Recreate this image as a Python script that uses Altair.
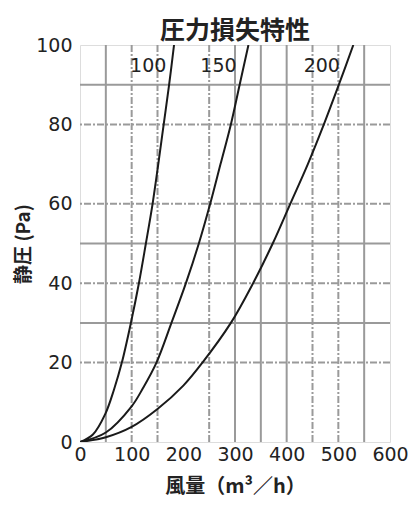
import altair as alt
import pandas as pd

# ---- data ----
x_ticks = [0, 100, 200, 300, 400, 500, 600]
y_ticks = [0, 20, 40, 60, 80, 100]

# curve "100"
p_100 = [0, 1.9, 7.1, 13.3, 20, 30, 40, 50, 60, 70, 80, 90, 100]
q_100 = [0, 25, 49, 66, 81, 98.5, 114, 127.5, 140.5, 151.5, 162, 172.5, 182]

# curve "150"
p_150 = [0, 2.4, 9.0, 13.6, 20, 30, 40, 50, 60, 70, 80, 90, 100]
q_150 = [0, 50, 100, 122, 148, 177, 205, 230, 252, 272, 292, 309, 326]

# curve "200"
p_200 = [0, 1.2, 3.8, 8.3, 14.2, 20, 30, 40, 50, 60, 70, 80, 90, 100]
q_200 = [0, 50, 100, 150, 200, 237, 292, 335, 373, 407, 441, 472, 501, 529]

grid_x_solid = [50, 300, 350, 400, 550]
grid_x_dash = [100, 150, 250, 450, 500]
grid_y_solid = [30, 50, 90]
grid_y_dash = [20, 40, 60, 80]

label_text = ["100", "150", "200"]
label_q = [132, 268, 468]
label_p = [94.7, 94.7, 94.7]

# ---- tables ----
rows = []
for name, qs, ps in (("100", q_100, p_100), ("150", q_150, p_150), ("200", q_200, p_200)):
    for i, (q, p) in enumerate(zip(qs, ps)):
        rows.append({"curve": name, "i": i, "q": q, "p": p})
curves = pd.DataFrame(rows)
labels = pd.DataFrame({"t": label_text, "q": label_q, "p": label_p})

FONT_NUM = "DejaVu Sans"
FONT_JP = "Noto Sans CJK JP"
TXT = "#222222"
GRID = "#9a9a9a"

xscale = alt.Scale(domain=[0, 600], nice=False)
yscale = alt.Scale(domain=[0, 100], nice=False)

X_AXIS = alt.Axis(
    values=x_ticks, grid=False, domain=False, ticks=False, tickSize=0,
    labelFont=FONT_NUM, labelFontSize=19, labelColor=TXT, labelPadding=3,
    labelOverlap=False, labelFlush=False,
    title="風量（m³／h）", titleFont=FONT_JP, titleFontSize=20, titleFontWeight="bold",
    titleColor=TXT, titleY=44, titleBaseline="middle",
)
Y_AXIS = alt.Axis(
    values=y_ticks, grid=False, domain=False, ticks=False, tickSize=0,
    labelFont=FONT_NUM, labelFontSize=19, labelColor=TXT, labelPadding=8,
    labelOverlap=False, labelFlush=False,
    title="静圧 (Pa)", titleFont=FONT_JP, titleFontSize=19, titleFontWeight="bold",
    titleColor=TXT, titleX=-57, titleBaseline="middle",
)

def vrules(vals, dash=None):
    m = alt.Chart(pd.DataFrame({"v": vals})).mark_rule(
        color=GRID, strokeWidth=2, **({"strokeDash": dash} if dash else {})
    )
    return m.encode(x=alt.X("v:Q", scale=xscale, axis=X_AXIS))

def hrules(vals, dash=None):
    m = alt.Chart(pd.DataFrame({"v": vals})).mark_rule(
        color=GRID, strokeWidth=2, **({"strokeDash": dash} if dash else {})
    )
    return m.encode(y=alt.Y("v:Q", scale=yscale, axis=Y_AXIS))

DASH = [7, 2, 2, 2]

lines = alt.Chart(curves).mark_line(
    color="#1a1a1a", strokeWidth=2, interpolate="catmull-rom", clip=True
).encode(
    x=alt.X("q:Q", scale=xscale, axis=X_AXIS),
    y=alt.Y("p:Q", scale=yscale, axis=Y_AXIS),
    detail="curve:N",
    order="i:Q",
)

texts = alt.Chart(labels).mark_text(
    font=FONT_NUM, fontSize=19, color=TXT, baseline="middle", align="center"
).encode(
    x=alt.X("q:Q", scale=xscale, axis=X_AXIS),
    y=alt.Y("p:Q", scale=yscale, axis=Y_AXIS),
    text="t:N",
)

chart = alt.layer(
    vrules(grid_x_solid), vrules(grid_x_dash, DASH),
    hrules(grid_y_solid), hrules(grid_y_dash, DASH),
    lines, texts,
).properties(
    width=310, height=397,
    padding={"left": 72, "top": 37, "right": 18, "bottom": 55},
    autosize=alt.AutoSizeParams(type="none"),
    title=alt.TitleParams(
        "圧力損失特性", font=FONT_JP, fontSize=25, fontWeight="bold", color=TXT,
        anchor="middle", frame="group", offset=8, dy=16,
    ),
).configure_view(
    stroke="#8a8a8a", strokeWidth=2
).configure(background="white")

chart.save("out.html", embed_options={"renderer": "svg", "actions": False})
